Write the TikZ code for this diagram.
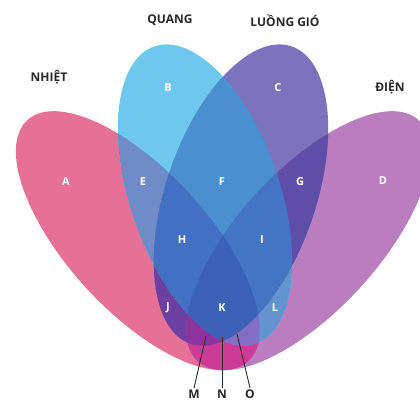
\documentclass[tikz,border=0pt]{standalone}
\usepackage{fontspec}
\setmainfont{Open Sans}
\usetikzlibrary{positioning}
\definecolor{nhietPink}{RGB}{230,112,150}
\definecolor{quangBlue}{RGB}{110,200,238}
\definecolor{gioPurple}{RGB}{124,114,190}
\definecolor{dienViolet}{RGB}{185,125,192}
\definecolor{regE}{RGB}{112,140,200}
\definecolor{regF}{RGB}{74,144,208}
\definecolor{regG}{RGB}{95,78,168}
\definecolor{regH}{RGB}{66,112,194}
\definecolor{regI}{RGB}{68,116,196}
\definecolor{regJ}{RGB}{108,64,162}
\definecolor{regK}{RGB}{60,98,184}
\definecolor{regL}{RGB}{100,148,208}
\definecolor{regM}{RGB}{140,52,156}
\definecolor{regN}{RGB}{204,60,150}
\definecolor{regO}{RGB}{130,110,196}
\definecolor{inkDark}{RGB}{40,40,40}
% the four sets
\newcommand{\setNhiet}{(137.8,161.3) ellipse [x radius=163.5, y radius=70, rotate=-47.5]}
\newcommand{\setQuang}{(205,207) ellipse [x radius=157, y radius=75, rotate=-71.2]}
\newcommand{\setGio}{(241,207) ellipse [x radius=157, y radius=75, rotate=71.2]}
\newcommand{\setDien}{(308.2,161.3) ellipse [x radius=163.5, y radius=70, rotate=47.5]}
\tikzset{
  zone/.style={text=white, font=\fontsize{11}{13}\selectfont\bfseries, inner sep=1pt},
  setname/.style={text=inkDark, font=\fontsize{12}{14}\selectfont\bfseries, inner sep=1pt},
  pinlabel/.style={text=inkDark, font=\fontsize{12}{14}\selectfont\bfseries, inner sep=1.5pt},
  pinline/.style={draw=inkDark, line width=0.9pt}
}
\begin{document}
\begin{tikzpicture}[x=1pt,y=1pt]
  \useasboundingbox (0,0) rectangle (420,402);
  \fill[white] (0,0) rectangle (420,402);
  \clip (0,0) rectangle (420,402);

  % single sets
  \fill[nhietPink] \setNhiet;
  \fill[dienViolet] \setDien;
  \fill[quangBlue] \setQuang;
  \fill[gioPurple] \setGio;

  % two sets
  \begin{scope} \clip \setNhiet; \fill[regE] \setQuang; \end{scope}
  \begin{scope} \clip \setNhiet; \fill[regJ] \setGio; \end{scope}
  \begin{scope} \clip \setNhiet; \fill[regN] \setDien; \end{scope}
  \begin{scope} \clip \setQuang; \fill[regF] \setGio; \end{scope}
  \begin{scope} \clip \setQuang; \fill[regL] \setDien; \end{scope}
  \begin{scope} \clip \setGio; \fill[regG] \setDien; \end{scope}

  % three sets
  \begin{scope} \clip \setNhiet; \clip \setQuang; \fill[regH] \setGio; \end{scope}
  \begin{scope} \clip \setNhiet; \clip \setQuang; \fill[regO] \setDien; \end{scope}
  \begin{scope} \clip \setNhiet; \clip \setGio; \fill[regM] \setDien; \end{scope}
  \begin{scope} \clip \setQuang; \clip \setGio; \fill[regI] \setDien; \end{scope}

  % all four
  \begin{scope} \clip \setNhiet; \clip \setQuang; \clip \setGio; \fill[regK] \setDien; \end{scope}

  % set names
  \node[setname] (tNhiet) at (49,325) {NHIỆT};
  \node[setname] (tQuang) at (170,382) {QUANG};
  \node[setname] (tGio) at (285,381) {LUỒNG GIÓ};
  \node[setname] (tDien) at (390,315) {ĐIỆN};

  % region letters
  \node[zone] (lblA) at (66,220) {A};
  \node[zone] (lblB) at (168,314) {B};
  \node[zone] (lblC) at (278,314) {C};
  \node[zone] (lblD) at (383,221) {D};
  \node[zone] (lblE) at (143,220) {E};
  \node[zone] (lblF) at (222,220) {F};
  \node[zone] (lblG) at (300,220) {G};
  \node[zone] (lblH) at (182,162) {H};
  \node[zone] (lblI) at (262,162) {I};
  \node[zone] (lblJ) at (168,94) {J};
  \node[zone] (lblK) at (222,94) {K};
  \node[zone] (lblL) at (275,94) {L};

  % small regions at the bottom
  \coordinate (tipM) at (206,66);
  \coordinate (tipN) at (222,65);
  \coordinate (tipO) at (237,68);
  \node[pinlabel] (lblM) at (194,8) {M};
  \node[pinlabel] (lblN) at (222,8) {N};
  \node[pinlabel] (lblO) at (250,8) {O};
  \draw[pinline] (lblM.north) -- (tipM);
  \draw[pinline] (lblN.north) -- (tipN);
  \draw[pinline] (lblO.north) -- (tipO);
\end{tikzpicture}
\end{document}
